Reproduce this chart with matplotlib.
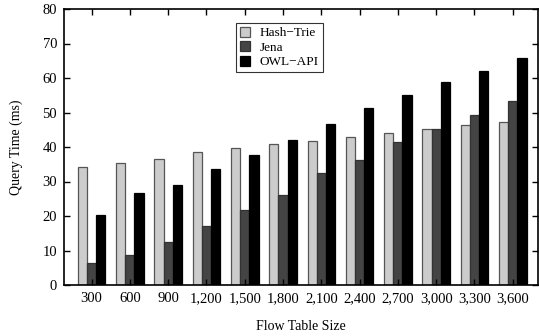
import numpy as np
import matplotlib
matplotlib.use("Agg")
import matplotlib.pyplot as plt

# data
sizes = ["300", "600", "900", "1,200", "1,500", "1,800",
         "2,100", "2,400", "2,700", "3,000", "3,300", "3,600"]
hash_trie = [34.3, 35.4, 36.4, 38.6, 39.6, 40.8, 41.8, 43.0, 44.1, 45.1, 46.3, 47.3]
jena = [6.3, 8.6, 12.5, 17.1, 21.7, 26.1, 32.5, 36.2, 41.4, 45.1, 49.3, 53.3]
owl_api = [20.3, 26.7, 29.0, 33.6, 37.7, 42.0, 46.7, 51.3, 55.1, 58.8, 62.0, 65.7]

plt.rcParams['font.family'] = ['Liberation Serif', 'DejaVu Serif']

fig = plt.figure(figsize=(5.39, 3.36), dpi=100)
ax = fig.add_axes([64 / 539, 1 - 285 / 336, 474 / 539, 276 / 336])

x = np.arange(len(sizes))
w = 0.24
ax.bar(x - w, hash_trie, w, color="#cccccc", edgecolor="#555555", linewidth=0.9, label="Hash\u2212Trie")
ax.bar(x, jena, w, color="#444444", edgecolor="#333333", linewidth=0.9, label="Jena")
ax.bar(x + w, owl_api, w, color="black", edgecolor="black", linewidth=0.9, label="OWL\u2212API")

ax.set_xlim(-0.72, 11.66)
ax.set_ylim(0, 80)
ax.set_yticks(range(0, 81, 10))
ax.set_xticks(x)
ax.set_xticklabels(sizes)
ax.tick_params(direction="in", top=True, right=True, length=4, width=1,
               labelsize=10.5, pad=5)
for s in ax.spines.values():
    s.set_linewidth(1.2)

ax.set_ylabel("Query Time (ms)", fontsize=10, labelpad=14)
ax.set_xlabel("Flow Table Size", fontsize=10, labelpad=11)

leg = ax.legend(loc="upper left", bbox_to_anchor=(0.363, 0.949), fontsize=9.5,
                frameon=True, fancybox=False, edgecolor="black",
                handlelength=0.75, handleheight=0.75, handletextpad=0.75,
                labelspacing=0.15, borderpad=0.3, borderaxespad=0)
leg.get_frame().set_linewidth(0.8)

fig.savefig("out.png", dpi=100)
